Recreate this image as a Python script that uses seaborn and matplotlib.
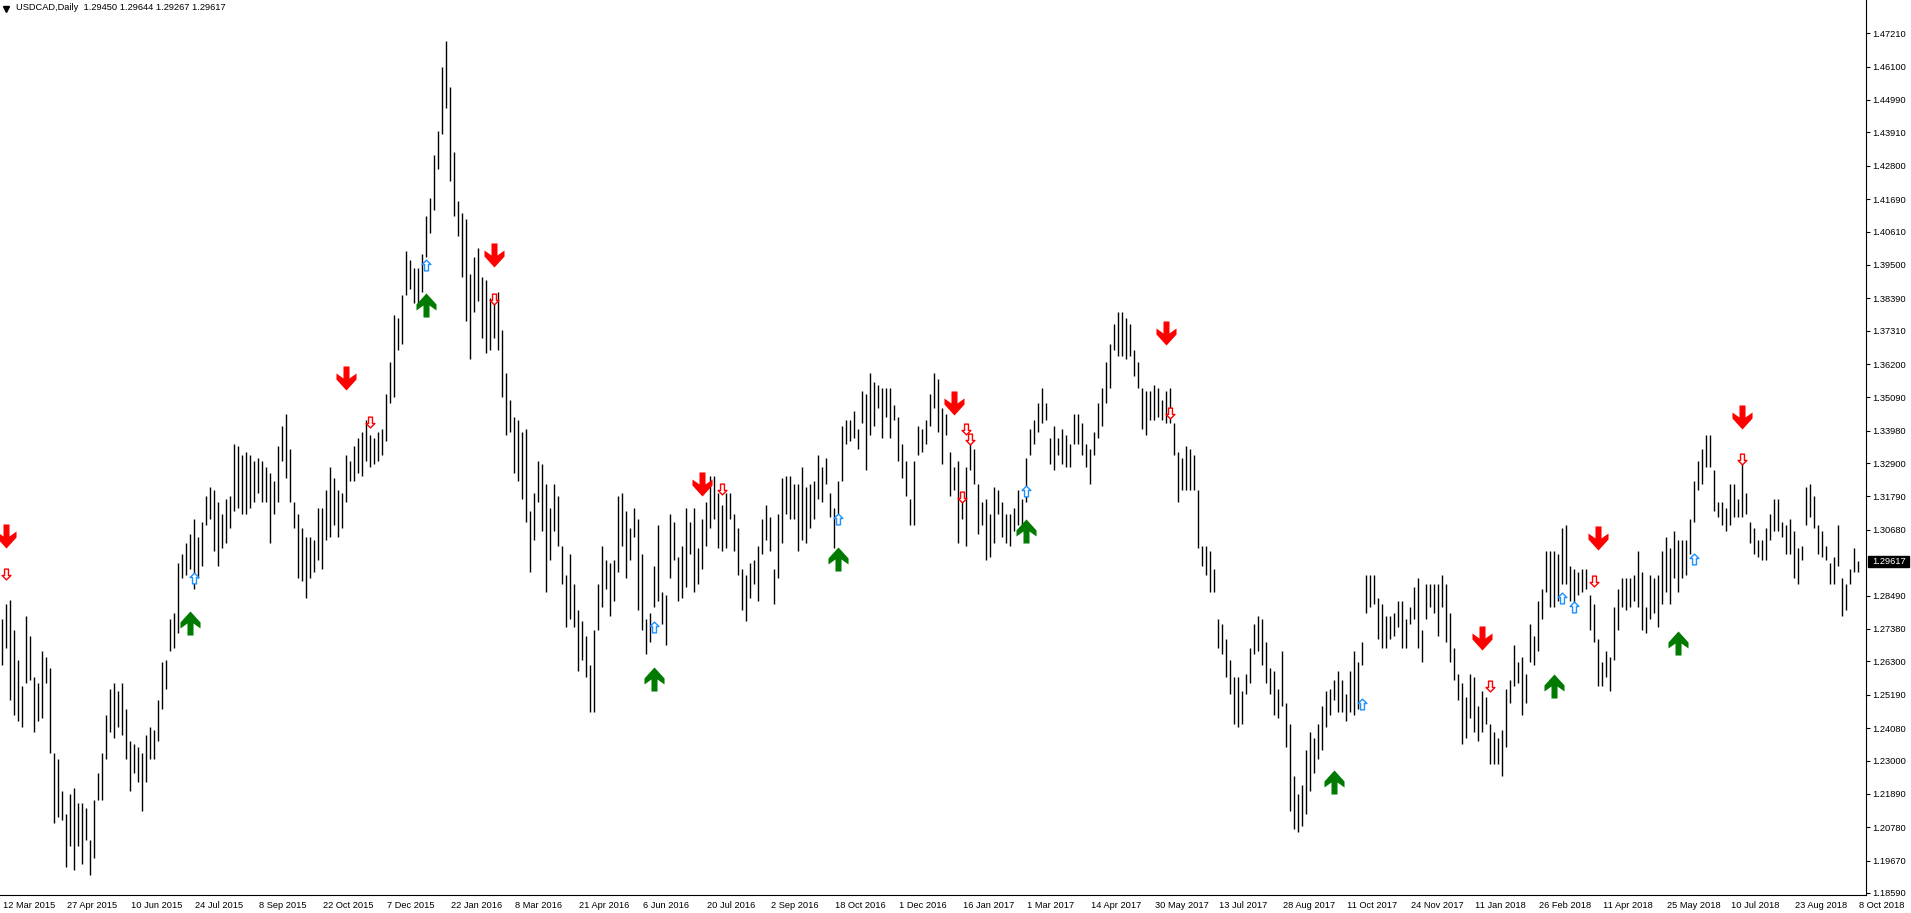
import numpy as np
import matplotlib
matplotlib.use("Agg")
import matplotlib.pyplot as plt
from matplotlib.path import Path
from matplotlib.patches import Rectangle
from matplotlib.lines import Line2D
from matplotlib.transforms import ScaledTranslation, blended_transform_factory
import seaborn as sns

sns.set_style("white")
plt.rcParams['font.family'] = ['Liberation Sans', 'DejaVu Sans']

# USDCAD daily, one entry per two trading days (high / low)
highs = [
    # Mar 2015 - Oct 2015
    1.2772, 1.2821, 1.2836, 1.2733, 1.2636, 1.2549, 1.2782, 1.2714, 1.2578, 1.2559,
    1.2665, 1.2646, 1.2607, 1.2326, 1.2306, 1.2199, 1.2122, 1.2190, 1.2209, 1.2160,
    1.2160, 1.2141, 1.2034, 1.2170, 1.2258, 1.2326, 1.2452, 1.2539, 1.2559, 1.2530,
    1.2559, 1.2471, 1.2364, 1.2355, 1.2345, 1.2326, 1.2384, 1.2413, 1.2403, 1.2500,
    1.2627, 1.2636, 1.2772, 1.2792, 1.2957, 1.2986, 1.3025, 1.3054, 1.3103, 1.3044,
    1.3093, 1.3180, 1.3210, 1.3200, 1.3161, 1.3122, 1.3171, 1.3180, 1.3355, 1.3346,
    1.3316, 1.3326, 1.3316, 1.3297, 1.3307, 1.3297, 1.3278, 1.3258, 1.3229, 1.3346,
    1.3414, 1.3452, 1.3336, 1.3161, 1.3122, 1.3074, 1.3044, 1.3044, 1.3035, 1.3142,
    # Oct 2015 - Jun 2016
    1.3142, 1.3200, 1.3278, 1.3239, 1.3200, 1.3190, 1.3316, 1.3297, 1.3346, 1.3375,
    1.3394, 1.3433, 1.3384, 1.3375, 1.3394, 1.3404, 1.3520, 1.3627, 1.3783, 1.3773,
    1.3851, 1.3997, 1.3967, 1.3938, 1.3938, 1.3987, 1.4113, 1.4171, 1.4317, 1.4395,
    1.4609, 1.4696, 1.4541, 1.4327, 1.4162, 1.4123, 1.4103, 1.3919, 1.3977, 1.4006,
    1.3909, 1.3899, 1.3841, 1.3841, 1.3860, 1.3734, 1.3589, 1.3501, 1.3443, 1.3433,
    1.3394, 1.3404, 1.3132, 1.3190, 1.3297, 1.3287, 1.3219, 1.3142, 1.3219, 1.3180,
    1.3015, 1.2918, 1.2986, 1.2889, 1.2801, 1.2763, 1.2714, 1.2617, 1.2733, 1.2889,
    1.3015, 1.2967, 1.2957, 1.2967, 1.3180, 1.3190, 1.3132, 1.3074,
    # Jun 2016 - Feb 2017
    1.3142, 1.3103, 1.2986, 1.2772, 1.2792, 1.2947, 1.3083, 1.2860, 1.2850, 1.3122,
    1.3093, 1.2976, 1.3015, 1.3142, 1.3093, 1.3142, 1.3006, 1.3103, 1.3161, 1.3248,
    1.3248, 1.3190, 1.3151, 1.3190, 1.3190, 1.3122, 1.3074, 1.2938, 1.2918, 1.2957,
    1.2967, 1.3015, 1.3103, 1.3151, 1.3112, 1.2938, 1.3122, 1.3239, 1.3248, 1.3248,
    1.3219, 1.3219, 1.3278, 1.3210, 1.3219, 1.3229, 1.3316, 1.3278, 1.3307, 1.3190,
    1.3142, 1.3229, 1.3414, 1.3433, 1.3433, 1.3462, 1.3404, 1.3530, 1.3520, 1.3589,
    1.3559, 1.3550, 1.3540, 1.3540, 1.3540, 1.3482, 1.3443, 1.3355, 1.3297, 1.3171,
    1.3297, 1.3414, 1.3404, 1.3433, 1.3520, 1.3589, 1.3569,
    # Dec 2016 - Aug 2017
    1.3472, 1.3452, 1.3326, 1.3278, 1.3297, 1.3180, 1.3278, 1.3355, 1.3336, 1.3219,
    1.3161, 1.3171, 1.3122, 1.3210, 1.3200, 1.3161, 1.3122, 1.3122, 1.3142, 1.3200,
    1.3171, 1.3307, 1.3404, 1.3433, 1.3491, 1.3540, 1.3491, 1.3375, 1.3414, 1.3375,
    1.3404, 1.3384, 1.3355, 1.3452, 1.3452, 1.3423, 1.3355, 1.3336, 1.3394, 1.3491,
    1.3540, 1.3627, 1.3686, 1.3754, 1.3793, 1.3793, 1.3773, 1.3754, 1.3666, 1.3627,
    1.3540, 1.3530, 1.3530, 1.3550, 1.3540, 1.3501, 1.3530, 1.3540, 1.3423, 1.3326,
    1.3307, 1.3346, 1.3336, 1.3316, 1.3200, 1.3015, 1.3015, 1.2996, 1.2938, 1.2772,
    1.2753, 1.2704, 1.2636, 1.2578, 1.2578, 1.2530, 1.2588, 1.2675,
    # Jul 2017 - Mar 2018
    1.2753, 1.2782, 1.2772, 1.2695, 1.2607, 1.2598, 1.2539, 1.2665, 1.2491, 1.2423,
    1.2248, 1.2190, 1.2219, 1.2335, 1.2394, 1.2374, 1.2423, 1.2481, 1.2530, 1.2539,
    1.2568, 1.2598, 1.2568, 1.2520, 1.2598, 1.2665, 1.2627, 1.2695, 1.2918, 1.2918,
    1.2918, 1.2840, 1.2821, 1.2782, 1.2782, 1.2792, 1.2831, 1.2831, 1.2772, 1.2811,
    1.2879, 1.2908, 1.2733, 1.2889, 1.2889, 1.2889, 1.2889, 1.2918, 1.2889, 1.2792,
    1.2675, 1.2588, 1.2559, 1.2510, 1.2588, 1.2578, 1.2481, 1.2530, 1.2510, 1.2423,
    1.2394, 1.2374, 1.2403, 1.2539, 1.2568, 1.2685, 1.2627, 1.2646, 1.2588, 1.2753,
    1.2714, 1.2831, 1.2870, 1.2996, 1.2996, 1.2996, 1.2986,
    # Mar 2018 - Oct 2018
    1.3074, 1.3083, 1.2947, 1.2938, 1.2928, 1.2938, 1.2938, 1.2850, 1.2821, 1.2704,
    1.2627, 1.2665, 1.2646, 1.2811, 1.2870, 1.2908, 1.2908, 1.2908, 1.2918, 1.2996,
    1.2928, 1.2811, 1.2918, 1.2908, 1.2918, 1.2996, 1.3044, 1.3006, 1.3064, 1.3035,
    1.3035, 1.3035, 1.3103, 1.3229, 1.3297, 1.3336, 1.3384, 1.3384, 1.3268, 1.3161,
    1.3161, 1.3142, 1.3219, 1.3219, 1.3171, 1.3297, 1.3190, 1.3093, 1.3074, 1.3035,
    1.3035, 1.3074, 1.3122, 1.3171, 1.3171, 1.3093, 1.3083, 1.3103, 1.3064, 1.3006,
    1.3015, 1.3210, 1.3219, 1.3180, 1.3083, 1.3064, 1.3015, 1.2957, 1.2976, 1.3083,
    1.2908, 1.2889, 1.2938, 1.3006, 1.2964,
]
lows = [
    1.2617, 1.2675, 1.2500, 1.2452, 1.2432, 1.2413, 1.2559, 1.2568, 1.2394, 1.2432,
    1.2442, 1.2559, 1.2326, 1.2092, 1.2112, 1.2102, 1.1947, 1.2015, 1.1937, 1.2015,
    1.1956, 1.2034, 1.1918, 1.1976, 1.2170, 1.2170, 1.2306, 1.2394, 1.2374, 1.2413,
    1.2384, 1.2306, 1.2199, 1.2258, 1.2228, 1.2131, 1.2228, 1.2306, 1.2306, 1.2364,
    1.2471, 1.2539, 1.2665, 1.2675, 1.2724, 1.2908, 1.2918, 1.2938, 1.2870, 1.2908,
    1.2947, 1.3083, 1.3103, 1.2996, 1.2947, 1.3006, 1.3025, 1.3074, 1.3132, 1.3142,
    1.3122, 1.3122, 1.3142, 1.3161, 1.3190, 1.3161, 1.3161, 1.3025, 1.3122, 1.3161,
    1.3297, 1.3239, 1.3161, 1.3074, 1.2908, 1.2899, 1.2840, 1.2908, 1.2928, 1.2967,

    1.2938, 1.3035, 1.3044, 1.3083, 1.3044, 1.3074, 1.3161, 1.3229, 1.3229, 1.3258,
    1.3248, 1.3297, 1.3278, 1.3287, 1.3297, 1.3316, 1.3365, 1.3491, 1.3511, 1.3666,
    1.3686, 1.3851, 1.3870, 1.3822, 1.3822, 1.3860, 1.3977, 1.4055, 1.4133, 1.4269,
    1.4385, 1.4473, 1.4230, 1.4113, 1.4045, 1.3909, 1.3763, 1.3637, 1.3793, 1.3831,
    1.3705, 1.3657, 1.3666, 1.3705, 1.3666, 1.3511, 1.3384, 1.3394, 1.3258, 1.3229,
    1.3171, 1.3093, 1.2928, 1.3035, 1.3161, 1.3064, 1.2860, 1.2967, 1.3064, 1.3015,
    1.2889, 1.2743, 1.2772, 1.2743, 1.2598, 1.2636, 1.2578, 1.2462, 1.2462, 1.2733,
    1.2811, 1.2870, 1.2782, 1.2831, 1.2928, 1.3015, 1.2908, 1.2967,

    1.3044, 1.2801, 1.2733, 1.2656, 1.2695, 1.2811, 1.2831, 1.2753, 1.2685, 1.2908,
    1.2967, 1.2831, 1.2840, 1.2879, 1.2986, 1.2860, 1.2889, 1.2938, 1.3015, 1.3074,
    1.3103, 1.3006, 1.2996, 1.3006, 1.3103, 1.2996, 1.2918, 1.2801, 1.2763, 1.2840,
    1.2889, 1.2831, 1.2986, 1.3035, 1.2996, 1.2821, 1.2908, 1.3025, 1.3122, 1.3103,
    1.3103, 1.2996, 1.3035, 1.3025, 1.3074, 1.3103, 1.3171, 1.3161, 1.3219, 1.3112,
    1.3006, 1.3122, 1.3229, 1.3355, 1.3365, 1.3375, 1.3336, 1.3423, 1.3268, 1.3384,
    1.3414, 1.3472, 1.3375, 1.3443, 1.3375, 1.3433, 1.3297, 1.3239, 1.3180, 1.3083,
    1.3083, 1.3316, 1.3326, 1.3355, 1.3414, 1.3472, 1.3394,

    1.3287, 1.3384, 1.3180, 1.3200, 1.3025, 1.3103, 1.3015, 1.3268, 1.3219, 1.3054,
    1.3083, 1.2967, 1.2976, 1.3025, 1.3122, 1.3044, 1.3025, 1.3015, 1.3064, 1.3083,
    1.3064, 1.3161, 1.3316, 1.3355, 1.3394, 1.3423, 1.3433, 1.3287, 1.3268, 1.3316,
    1.3287, 1.3278, 1.3278, 1.3355, 1.3355, 1.3316, 1.3278, 1.3219, 1.3316, 1.3375,
    1.3414, 1.3491, 1.3540, 1.3666, 1.3647, 1.3647, 1.3637, 1.3647, 1.3579, 1.3540,
    1.3404, 1.3384, 1.3433, 1.3433, 1.3443, 1.3433, 1.3423, 1.3423, 1.3316, 1.3161,
    1.3200, 1.3200, 1.3200, 1.3200, 1.3006, 1.2947, 1.2918, 1.2860, 1.2860, 1.2675,
    1.2656, 1.2578, 1.2520, 1.2423, 1.2413, 1.2423, 1.2520, 1.2559,

    1.2656, 1.2665, 1.2617, 1.2559, 1.2520, 1.2452, 1.2442, 1.2481, 1.2345, 1.2131,
    1.2073, 1.2063, 1.2083, 1.2122, 1.2199, 1.2258, 1.2306, 1.2335, 1.2413, 1.2452,
    1.2500, 1.2462, 1.2462, 1.2432, 1.2462, 1.2452, 1.2471, 1.2617, 1.2792, 1.2811,
    1.2821, 1.2704, 1.2675, 1.2675, 1.2704, 1.2714, 1.2743, 1.2675, 1.2675, 1.2753,
    1.2772, 1.2675, 1.2627, 1.2772, 1.2811, 1.2792, 1.2714, 1.2811, 1.2695, 1.2627,
    1.2568, 1.2500, 1.2355, 1.2374, 1.2442, 1.2394, 1.2364, 1.2394, 1.2423, 1.2287,
    1.2287, 1.2287, 1.2248, 1.2345, 1.2491, 1.2549, 1.2559, 1.2452, 1.2491, 1.2627,
    1.2617, 1.2665, 1.2772, 1.2860, 1.2811, 1.2811, 1.2831,

    1.2889, 1.2889, 1.2831, 1.2811, 1.2850, 1.2860, 1.2870, 1.2733, 1.2695, 1.2549,
    1.2549, 1.2578, 1.2530, 1.2636, 1.2733, 1.2811, 1.2801, 1.2811, 1.2831, 1.2811,
    1.2733, 1.2724, 1.2772, 1.2792, 1.2743, 1.2821, 1.2860, 1.2821, 1.2908, 1.2860,
    1.2908, 1.2918, 1.2986, 1.3093, 1.3200, 1.3219, 1.3278, 1.3278, 1.3132, 1.3112,
    1.3083, 1.3064, 1.3083, 1.3112, 1.3112, 1.3112, 1.3122, 1.3025, 1.2986, 1.2976,
    1.2967, 1.2967, 1.3035, 1.3064, 1.3064, 1.3044, 1.2986, 1.2986, 1.2908, 1.2889,
    1.2967, 1.3083, 1.3112, 1.3074, 1.2986, 1.2976, 1.2967, 1.2889, 1.2889, 1.2947,
    1.2782, 1.2801, 1.2889, 1.2928, 1.2927,
]

date_labels = ["12 Mar 2015", "27 Apr 2015", "10 Jun 2015", "24 Jul 2015", "8 Sep 2015",
               "22 Oct 2015", "7 Dec 2015", "22 Jan 2016", "8 Mar 2016", "21 Apr 2016",
               "6 Jun 2016", "20 Jul 2016", "2 Sep 2016", "18 Oct 2016", "1 Dec 2016",
               "16 Jan 2017", "1 Mar 2017", "14 Apr 2017", "30 May 2017", "13 Jul 2017",
               "28 Aug 2017", "11 Oct 2017", "24 Nov 2017", "11 Jan 2018", "26 Feb 2018",
               "11 Apr 2018", "25 May 2018", "10 Jul 2018", "23 Aug 2018", "8 Oct 2018"]
price_ticks = [1.47210, 1.46100, 1.44990, 1.43910, 1.42800, 1.41690, 1.40610, 1.39500,
               1.38390, 1.37310, 1.36200, 1.35090, 1.33980, 1.32900, 1.31790, 1.30680,
               1.28490, 1.27380, 1.26300, 1.25190, 1.24080, 1.23000, 1.21890, 1.20780,
               1.19670, 1.18590]
last_price = 1.29617
header = "USDCAD,Daily  1.29450 1.29644 1.29267 1.29617"

# signal arrows (bar index, price)
sell_big_idx = [1, 86, 123, 175, 238, 291, 370, 399, 435]
sell_big_px = [1.3048, 1.3573, 1.3983, 1.3219, 1.3491, 1.3724, 1.2708, 1.3040, 1.3443]
buy_big_idx = [47, 106, 163, 209, 256, 333, 388, 419]
buy_big_px = [1.2757, 1.3816, 1.2572, 1.2970, 1.3064, 1.2228, 1.2549, 1.2691]
buy_small_idx = [48, 106, 163, 209, 256, 340, 390, 393, 423]
buy_small_px = [1.2908, 1.3948, 1.2743, 1.3103, 1.3196, 1.2487, 1.2840, 1.2811, 1.2972]
sell_small_idx = [1, 92, 123, 180, 241, 242, 240, 292, 372, 398, 435]
sell_small_px = [1.2922, 1.3427, 1.3837, 1.3204, 1.3404, 1.3371, 1.3176, 1.3456, 1.2549,
                 1.2899, 1.3303]

W, H = 1911, 913
fig = plt.figure(figsize=(W / 100, H / 100), dpi=100, facecolor='white')
ax = fig.add_axes([0, 18 / H, 1866 / W, 895 / H])
ax.set_facecolor('white')

x = np.arange(len(highs))
ax.vlines(x, lows, highs, color='black', linewidth=1.0, zorder=2)

ax.set_xlim(-0.5, 466)
ax.set_ylim(1.18523, 1.48318)


def thick_arrow(up):
    v = [(-3, 12), (3, 12), (3, 0), (10, 5), (10, -1), (0, -12), (-10, -1), (-10, 5), (-3, 0), (-3, 12)]
    if up:
        v = [(a, -b) for a, b in v]
    return Path(v, closed=True)


def hollow_arrow(up):
    v = [(0, 5.5), (4.5, 1), (2, 1), (2, -5.5), (-2, -5.5), (-2, 1), (-4.5, 1), (0, 5.5)]
    if not up:
        v = [(a, -b) for a, b in v]
    return Path(v, closed=True)


sns.scatterplot(x=sell_big_idx, y=sell_big_px, marker=thick_arrow(False), s=300,
                color='#FF0000', linewidth=0, ax=ax, zorder=4)
sns.scatterplot(x=buy_big_idx, y=buy_big_px, marker=thick_arrow(True), s=300,
                color='#007A00', linewidth=0, ax=ax, zorder=4)
sns.scatterplot(x=buy_small_idx, y=buy_small_px, marker=hollow_arrow(True), s=60,
                color='white', edgecolor='#1E90FF', linewidth=1.0, ax=ax, zorder=4)
sns.scatterplot(x=sell_small_idx, y=sell_small_px, marker=hollow_arrow(False), s=60,
                color='white', edgecolor='#FF0000', linewidth=1.0, ax=ax, zorder=4)

# axes look like the terminal window
for side in ['top', 'left']:
    ax.spines[side].set_visible(False)
for side in ['right', 'bottom']:
    ax.spines[side].set_color('black')
    ax.spines[side].set_linewidth(0.8)

ax.yaxis.tick_right()
ax.set_yticks(price_ticks)
ax.set_yticklabels(['%.5f' % p for p in price_ticks])
ax.tick_params(axis='y', direction='out', length=3, width=0.8, pad=1.5,
               labelsize=6.7, colors='black')

ax.set_xticks(np.arange(len(date_labels)) * 16 - 0.25)
ax.set_xticklabels(date_labels)
ax.tick_params(axis='x', direction='out', length=3, width=0.8, pad=1.5,
               labelsize=6.7, colors='black')
offset = ScaledTranslation(2 / 100, 0, fig.dpi_scale_trans)
for lbl in ax.get_xticklabels():
    lbl.set_horizontalalignment('left')
    lbl.set_transform(lbl.get_transform() + offset)

ax.set_xlabel('')
ax.set_ylabel('')
ax.grid(False)

# current price box on the price scale
tr = blended_transform_factory(ax.transAxes, ax.transData)
half = 5.5 * (1.48318 - 1.18523) / 895
ax.add_patch(Rectangle((1 + 2 / 1866, last_price - half), 41 / 1866, 2 * half,
                       transform=tr, facecolor='black', edgecolor='black',
                       clip_on=False, zorder=5))
ax.text(1 + 6 / 1866, last_price, '%.5f' % last_price, transform=tr, color='white',
        fontsize=6.7, va='center', ha='left', zorder=6, clip_on=False)

# header line
fig.add_artist(Line2D([6 / W], [1 - 9 / H], marker='v', markersize=4, color='black',
                      linestyle='none', transform=fig.transFigure))
fig.text(16 / W, 1 - 8 / H, header, fontsize=6.7, va='center', ha='left', color='black')

fig.savefig('out.png', dpi=100, facecolor='white')
